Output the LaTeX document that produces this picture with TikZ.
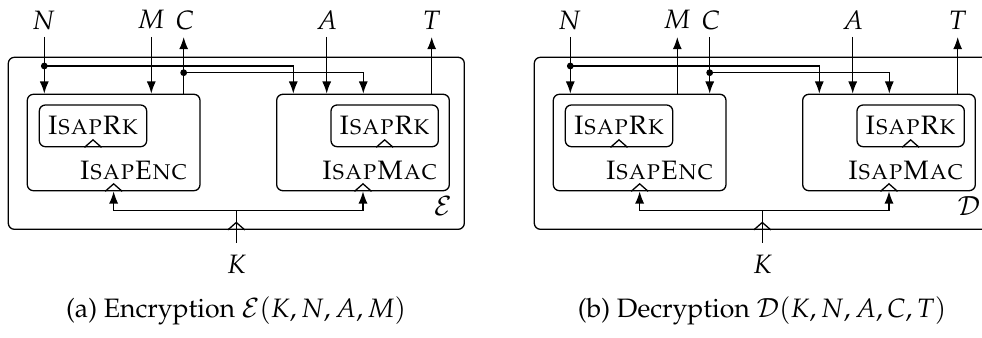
\documentclass[tikz,border=0pt]{standalone}
\usepackage[T1]{fontenc}
\usepackage{mathpazo}
\usetikzlibrary{arrows.meta,fit,calc}
\tikzset{
  ln/.style={line width=0.75pt},
  arr/.style={ln,-{Latex[length=7pt,width=5.2pt]}},
  rbox/.style={draw,ln,rounded corners=3.5pt,inner sep=0pt},
  lab/.style={inner sep=0pt,font=\fontsize{15.3}{18}\selectfont},
  sclab/.style={inner sep=0pt,font=\fontsize{15.3}{18}\selectfont},
  captxt/.style={inner sep=0pt,font=\fontsize{15.3}{18}\selectfont},
  dot/.style={circle,fill,inner sep=0pt,minimum size=3.9pt},
  hat/.pic={\draw[ln] (-8.5,0) -- (0,-7.5) -- (8.5,0);}
}
\begin{document}
\begin{tikzpicture}[x=0.575pt,y=-0.575pt]
\useasboundingbox (0,0) rectangle (982,338);
\clip (0,0) rectangle (982,338);
% ---------------- panel (a)
\begin{scope}
\node[rbox,fit={(8.3,57.3) (464.3,229.3)}] (outA) {};
\node[rbox,fit={(27.3,94.3) (200,190.7)}] (encA) {};
\node[rbox,fit={(39.3,105) (146.7,146.7)}] (rkeA) {};
\node[rbox,fit={(276.7,94.3) (449.3,190.7)}] (macA) {};
\node[rbox,fit={(331,105) (438.3,146.7)}] (rkmA) {};
\node[sclab] at (rkeA.center) {\textsc{IsapRk}};
\node[sclab] at (rkmA.center) {\textsc{IsapRk}};
\node[sclab,anchor=base east] at (188,180) {\textsc{IsapEnc}};
\node[sclab,anchor=base east] at (438,180) {\textsc{IsapMac}};
\node[lab] at (443,206) {$\mathcal{E}$};
\pic at (rkeA.south) {hat};
\pic at (rkmA.south) {hat};
\pic at (encA.south) {hat};
\pic at (macA.south) {hat};
\pic at (outA.south) {hat};
% labels
\node[lab] (NA) at (43.5,20) {$N$};
\node[lab] (MA) at (151,20) {$M$};
\node[lab] (CA) at (185,20) {$C$};
\node[lab] (AA) at (326.7,20) {$A$};
\node[lab] (TA) at (431.7,20) {$T$};
\node[lab] (KA) at (236.7,264) {$K$};
\coordinate (nsA) at (44.3,37);
\coordinate (msA) at (151.3,37);
\coordinate (csA) at (183.7,37);
\coordinate (asA) at (326.7,37);
\coordinate (tsA) at (431.7,37);
\coordinate (ksA) at (236.7,242.7);
\node[dot] (d1A) at (44.3,66) {};
\node[dot] (d2A) at (183.7,72.7) {};
\coordinate (n2A) at (293.3,66);
\coordinate (c2A) at (363.3,72.7);
\coordinate (kjA) at (236.7,210.7);
\draw[arr] (nsA) -- (nsA |- encA.north);
\draw[arr] (msA) -- (msA |- encA.north);
\draw[arr] (csA |- encA.north) -- (csA);
\draw[arr] (asA) -- (asA |- macA.north);
\draw[arr] (tsA |- macA.north) -- (tsA);
\draw[arr] (d1A.center) -- (n2A) -- (n2A |- macA.north);
\draw[arr] (d2A.center) -- (c2A) -- (c2A |- macA.north);
\draw[ln] (ksA) -- (kjA);
\draw[arr] (kjA) -| (encA.south);
\draw[arr] (kjA) -| (macA.south);
\node[captxt] (capA) at (236,311) {(a) Encryption $\mathcal{E}(K,N,A,M)$};
\end{scope}
% ---------------- panel (b)
\begin{scope}[xshift=526*0.575pt]
\node[rbox,fit={(8.3,57.3) (464.3,229.3)}] (outB) {};
\node[rbox,fit={(27.3,94.3) (200,190.7)}] (encB) {};
\node[rbox,fit={(39.3,105) (146.7,146.7)}] (rkeB) {};
\node[rbox,fit={(276.7,94.3) (449.3,190.7)}] (macB) {};
\node[rbox,fit={(331,105) (438.3,146.7)}] (rkmB) {};
\node[sclab] at (rkeB.center) {\textsc{IsapRk}};
\node[sclab] at (rkmB.center) {\textsc{IsapRk}};
\node[sclab,anchor=base east] at (188,180) {\textsc{IsapEnc}};
\node[sclab,anchor=base east] at (438,180) {\textsc{IsapMac}};
\node[lab] at (443,206) {$\mathcal{D}$};
\pic at (rkeB.south) {hat};
\pic at (rkmB.south) {hat};
\pic at (encB.south) {hat};
\pic at (macB.south) {hat};
\pic at (outB.south) {hat};
\node[lab] (NB) at (43.5,20) {$N$};
\node[lab] (MB) at (151,20) {$M$};
\node[lab] (CB) at (185,20) {$C$};
\node[lab] (AB) at (326.7,20) {$A$};
\node[lab] (TB) at (431.7,20) {$T$};
\node[lab] (KB) at (236.7,264) {$K$};
\coordinate (nsB) at (44.3,37);
\coordinate (msB) at (151.3,37);
\coordinate (csB) at (183.7,37);
\coordinate (asB) at (326.7,37);
\coordinate (tsB) at (431.7,37);
\coordinate (ksB) at (236.7,242.7);
\node[dot] (d1B) at (44.3,66) {};
\node[dot] (d2B) at (183.7,72.7) {};
\coordinate (n2B) at (293.3,66);
\coordinate (c2B) at (363.3,72.7);
\coordinate (kjB) at (236.7,210.7);
\draw[arr] (nsB) -- (nsB |- encB.north);
\draw[arr] (msB |- encB.north) -- (msB);
\draw[arr] (csB) -- (csB |- encB.north);
\draw[arr] (asB) -- (asB |- macB.north);
\draw[arr] (tsB |- macB.north) -- (tsB);
\draw[arr] (d1B.center) -- (n2B) -- (n2B |- macB.north);
\draw[arr] (d2B.center) -- (c2B) -- (c2B |- macB.north);
\draw[ln] (ksB) -- (kjB);
\draw[arr] (kjB) -| (encB.south);
\draw[arr] (kjB) -| (macB.south);
\node[captxt] (capB) at (236,311) {(b) Decryption $\mathcal{D}(K,N,A,C,T)$};
\end{scope}
\end{tikzpicture}
\end{document}
